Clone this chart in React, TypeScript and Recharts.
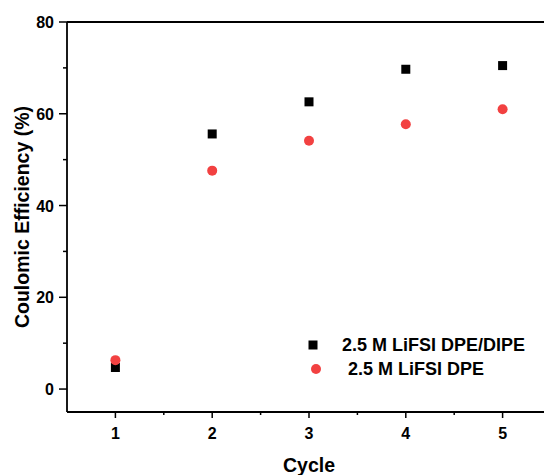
import React from 'react'
import { ScatterChart, Scatter, XAxis, YAxis, ReferenceLine } from 'recharts'

const cycles = [1, 2, 3, 4, 5]
const dpeDipe = [4.7, 55.6, 62.6, 69.7, 70.5]
const dpe = [6.3, 47.6, 54.1, 57.7, 61.0]
const xTicks = [1, 1.5, 2, 2.5, 3, 3.5, 4, 4.5, 5]
const yTicks = [0, 10, 20, 30, 40, 50, 60, 70, 80]
const seriesNames = ['2.5 M LiFSI DPE/DIPE', '2.5 M LiFSI DPE']

const RED = '#f24141'
const FONT = '"Liberation Sans", Arial, sans-serif'

const squareData = cycles.map((c, i) => ({ x: c, y: dpeDipe[i] }))
const circleData = cycles.map((c, i) => ({ x: c, y: dpe[i] }))

const XTick = (props: any) => {
  const { x, y, payload } = props
  const major = Number.isInteger(payload.value)
  return (
    <g>
      <line x1={x} x2={x} y1={y} y2={y + (major ? 6 : 3)} stroke="#000" strokeWidth={1.5} />
      {major && (
        <text x={x} y={y + 27} textAnchor="middle" fontSize={16} fontWeight="bold" fontFamily={FONT} fill="#000">
          {payload.value}
        </text>
      )}
    </g>
  )
}

const YTick = (props: any) => {
  const { x, y, payload } = props
  const major = payload.value % 20 === 0
  return (
    <g>
      <line x1={x - (major ? 8 : 4)} x2={x} y1={y} y2={y} stroke="#000" strokeWidth={1.5} />
      {major && (
        <text x={x - 13} y={y + 6} textAnchor="end" fontSize={16} fontWeight="bold" fontFamily={FONT} fill="#000">
          {payload.value}
        </text>
      )}
    </g>
  )
}

const SquareShape = (p: any) => <rect x={p.cx - 4.5} y={p.cy - 4.5} width={9} height={9} fill="#000" />
const CircleShape = (p: any) => <circle cx={p.cx} cy={p.cy} r={5} fill={RED} />

// legend drawn as an overlay so it doesn't eat into the plot area
const LegendBox = () => (
  <svg width={240} height={56} style={{ position: 'absolute', left: 300, top: 330 }}>
    <rect x={8.5} y={10.5} width={9} height={9} fill="#000" />
    <text x={42} y={21} fontSize={18} fontWeight="bold" fontFamily={FONT} fill="#000">{seriesNames[0]}</text>
    <circle cx={16} cy={39} r={5} fill={RED} />
    <text x={48} y={45} fontSize={18} fontWeight="bold" fontFamily={FONT} fill="#000">{seriesNames[1]}</text>
  </svg>
)

export default function App() {
  return (
    <div style={{ position: 'absolute', left: 0, top: 0, width: 544, height: 475, overflow: 'hidden', background: '#fff' }}>
      <ScatterChart width={560} height={475} margin={{ top: 22, right: 9, bottom: 0, left: 0 }}>
        <XAxis
          type="number"
          dataKey="x"
          domain={[0.5, 5.5]}
          ticks={xTicks}
          interval={0}
          height={63}
          tickSize={0}
          tickMargin={0}
          tickLine={false}
          tick={<XTick />}
          axisLine={{ stroke: '#000', strokeWidth: 1.8 }}
          label={{ value: 'Cycle', position: 'insideBottom', offset: 3, style: { fontSize: 19.5, fontWeight: 'bold', fontFamily: FONT, fill: '#000' } }}
        />
        <YAxis
          type="number"
          dataKey="y"
          domain={[-5, 80]}
          ticks={yTicks}
          interval={0}
          width={67}
          tickSize={0}
          tickMargin={0}
          tickLine={false}
          tick={<YTick />}
          axisLine={{ stroke: '#000', strokeWidth: 1.8 }}
          label={{ value: 'Coulomic Efficiency (%)', angle: -90, position: 'insideLeft', offset: 22, style: { textAnchor: 'middle', fontSize: 19.5, fontWeight: 'bold', fontFamily: FONT, fill: '#000' } }}
        />
        <ReferenceLine y={80} stroke="#000" strokeWidth={1.8} />
        <Scatter name={seriesNames[0]} data={squareData} shape={<SquareShape />} isAnimationActive={false} />
        <Scatter name={seriesNames[1]} data={circleData} shape={<CircleShape />} isAnimationActive={false} />
      </ScatterChart>
      <LegendBox />
    </div>
  )
}
